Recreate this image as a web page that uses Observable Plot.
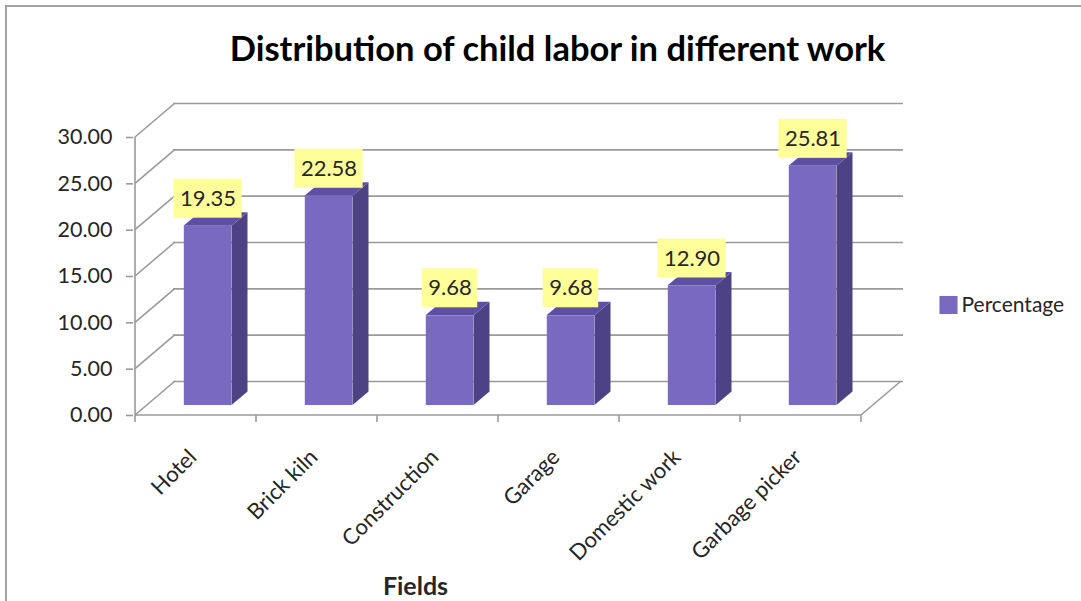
<!DOCTYPE html>
<html>
<head>
<meta charset="utf-8">
<script src="https://cdn.jsdelivr.net/npm/d3@7"></script>
<script src="https://cdn.jsdelivr.net/npm/@observablehq/plot@0.6"></script>
<style>
  html, body { margin: 0; padding: 0; background: #ffffff; }
  #chart { position: relative; width: 1081px; height: 601px; overflow: hidden; }
  #chart svg { position: absolute; left: 0; top: 0; }
  #chart .edge {
    position: absolute; left: 5px; top: 5px; right: -4px; bottom: -4px;
    border-left: 2px solid #a3a3a3; border-top: 2px solid #a3a3a3;
    pointer-events: none;
  }
</style>
</head>
<body>
<div id="chart"><div class="edge"></div></div>
<script>
// ---- data ----
const categories = ["Hotel", "Brick kiln", "Construction", "Garage", "Domestic work", "Garbage picker"];
const percentages = [19.35, 22.58, 9.68, 9.68, 12.90, 25.81];
const valueTicks = [0, 5, 10, 15, 20, 25, 30];
const seriesName = "Percentage";
const titleText = "Distribution of child labor in different work";
const axisTitle = "Fields";

const rows = categories.map((field, i) => ({field, value: percentages[i]}));

// ---- styling ----
const FONT = "Lato, 'Open Sans', sans-serif";
const FRONT = "#7a69c0";
const SIDE = "#4d4384";
const TOP = "#5d50a2";
const GRID = "#9a9a9a";
const INK = "#262626";
const LABEL_BG = "#ffff99";
const LABEL_SIZE = 22;

// oblique depth of the walls, placement of the bars inside that depth, and bar depth
const WALL = {dx: 40, dy: -34};
const SHIFT = {dx: 12, dy: -10};
const DEPTH = {dx: 16, dy: -13.5};
const BAR_W = 48;

const measure = document.createElement("canvas").getContext("2d");
measure.font = `${LABEL_SIZE}px ${FONT}`;

// side walls, floor edges, value axis line and category ticks
function walls(index, {x, y}) {
  const g = d3.create("svg:g")
    .attr("fill", "none").attr("stroke", GRID).attr("stroke-width", 1.6);
  const bw = x.bandwidth();
  const x0 = x(categories[0]);
  const x1 = x(categories[categories.length - 1]) + bw;
  const y0 = y(0);
  for (const t of valueTicks) {
    g.append("line")
      .attr("x1", x0).attr("y1", y(t))
      .attr("x2", x0 + WALL.dx).attr("y2", y(t) + WALL.dy);
  }
  g.append("line").attr("x1", x1).attr("y1", y0).attr("x2", x1 + WALL.dx).attr("y2", y0 + WALL.dy);
  g.append("line").attr("x1", x0).attr("y1", y0).attr("x2", x1).attr("y2", y0);
  g.append("line").attr("x1", x0).attr("y1", y(valueTicks[valueTicks.length - 1])).attr("x2", x0).attr("y2", y0);
  const edges = categories.map(c => x(c)).concat([x1]);
  for (const e of edges) {
    g.append("line").attr("x1", e).attr("y1", y0).attr("x2", e).attr("y2", y0 + 7);
  }
  return g.node();
}

// side and top faces of each bar
function barFaces(index, {x, y}) {
  const g = d3.create("svg:g");
  const bw = x.bandwidth();
  for (const d of rows) {
    const cx = x(d.field) + bw / 2 + SHIFT.dx;
    const xl = cx - BAR_W / 2, xr = cx + BAR_W / 2;
    const yt = y(d.value) + SHIFT.dy, yb = y(0) + SHIFT.dy;
    const side = [[xr, yb], [xr, yt], [xr + DEPTH.dx, yt + DEPTH.dy], [xr + DEPTH.dx, yb + DEPTH.dy]];
    const top = [[xl, yt], [xr, yt], [xr + DEPTH.dx, yt + DEPTH.dy], [xl + DEPTH.dx, yt + DEPTH.dy]];
    g.append("path").attr("d", "M" + side.join("L") + "Z").attr("fill", SIDE);
    g.append("path").attr("d", "M" + top.join("L") + "Z").attr("fill", TOP);
  }
  return g.node();
}

// yellow boxes behind the value labels
function labelBoxes(index, {x, y}) {
  const g = d3.create("svg:g").attr("fill", LABEL_BG);
  const bw = x.bandwidth();
  for (const d of rows) {
    const w = measure.measureText(d.value.toFixed(2)).width + 12;
    const h = 39;
    const cx = x(d.field) + bw / 2 + SHIFT.dx;
    const cy = y(d.value) - 37.5;
    g.append("rect").attr("x", cx - w / 2).attr("y", cy - h / 2).attr("width", w).attr("height", h);
  }
  return g.node();
}

const chart = Plot.plot({
  width: 1081,
  height: 601,
  marginLeft: 133,
  marginRight: 218,
  marginTop: 137,
  marginBottom: 186,
  style: {fontFamily: FONT, fontSize: "22px", background: "transparent", overflow: "visible"},
  x: {type: "band", domain: categories, padding: 0, axis: null},
  y: {domain: [0, 30], axis: null},
  marks: [
    // back wall gridlines
    Plot.ruleY(valueTicks, {dx: WALL.dx, dy: WALL.dy, stroke: GRID, strokeWidth: 1.6}),
    walls,
    // bars: side and top faces, then the front face
    barFaces,
    Plot.barY(rows, {x: "field", y: "value", fill: FRONT, insetLeft: 36.8, insetRight: 36.8, dx: SHIFT.dx, dy: SHIFT.dy}),
    // value labels
    labelBoxes,
    Plot.text(rows, {x: "field", y: "value", text: d => d.value.toFixed(2), dx: SHIFT.dx, dy: -37.5,
      fontSize: LABEL_SIZE, fill: INK}),
    // axes
    Plot.axisY(valueTicks, {tickFormat: d3.format(".2f"), tickSize: 7, tickPadding: 14,
      fontSize: 21.5, stroke: GRID, strokeWidth: 1.6, fill: INK, label: null}),
    Plot.axisX({tickSize: 0, tickPadding: 43, tickRotate: -45, textAnchor: "end", lineAnchor: "bottom",
      dx: 2, fontSize: 22, fill: INK, label: null}),
    // axis title
    Plot.text([axisTitle], {frameAnchor: "bottom", lineAnchor: "bottom", text: d => d, dx: -83, dy: 179,
      fontSize: 25, fontWeight: "bold", fill: INK}),
    // title
    Plot.text([titleText], {frameAnchor: "top", lineAnchor: "bottom", text: d => d, dx: 59, dy: -77,
      fontSize: 34.5, fontWeight: "bold", fill: "#000"}),
    // legend
    Plot.dot([seriesName], {frameAnchor: "right", symbol: "square", r: 10.2, fill: FRONT, stroke: null, dx: 85, dy: 28.5}),
    Plot.text([seriesName], {frameAnchor: "right", text: d => d, textAnchor: "start", dx: 98, dy: 29,
      fontSize: 21, fill: INK})
  ]
});

document.getElementById("chart").prepend(chart);
</script>
</body>
</html>
